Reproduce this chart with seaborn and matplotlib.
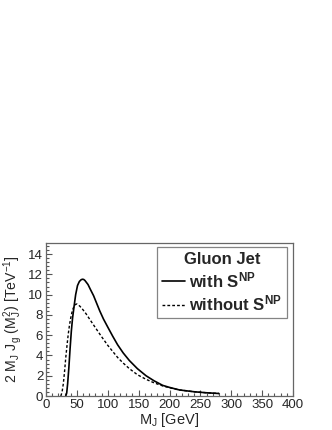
import numpy as np
import pandas as pd
import seaborn as sns
import matplotlib.pyplot as plt
from matplotlib.ticker import MultipleLocator

# with S^NP
mj_with = [32, 33.5, 35, 37, 39, 41, 43, 46, 48, 51, 54, 57, 59, 61, 63, 68, 72, 77, 81,
           87, 93, 100, 108, 116, 125, 135, 148, 162, 175, 189, 200, 216, 240, 260, 280]
j_with = [0.0, 0.3, 1.2, 2.8, 4.7, 6.4, 7.7, 9.1, 10.0, 10.9, 11.3, 11.48, 11.52, 11.5,
          11.4, 11.0, 10.5, 9.9, 9.3, 8.4, 7.6, 6.8, 5.9, 5.05, 4.25, 3.5, 2.7, 2.0, 1.5,
          1.05, 0.85, 0.6, 0.42, 0.32, 0.25]
# without S^NP
mj_without = [24, 26, 28, 30, 32, 34, 36, 38, 40, 42, 44, 46, 48, 50, 52, 55, 60, 65, 71,
              81, 90, 100, 108, 116, 125, 135, 148, 162, 175, 189, 200, 216, 240, 260, 280]
j_without = [0.0, 0.4, 1.2, 2.4, 3.8, 5.0, 6.1, 7.0, 7.7, 8.25, 8.65, 8.9, 9.05, 9.08, 9.0,
             8.85, 8.5, 8.1, 7.55, 6.65, 5.85, 5.0, 4.4, 3.8, 3.25, 2.7, 2.1, 1.65, 1.3,
             1.0, 0.82, 0.6, 0.42, 0.32, 0.25]

df = pd.concat([
    pd.DataFrame({"MJ": mj_with, "J": j_with, "curve": "with"}),
    pd.DataFrame({"MJ": mj_without, "J": j_without, "curve": "without"}),
])

sns.set_style("ticks")
plt.rcParams['font.family'] = ['Liberation Sans', 'DejaVu Sans']
plt.rcParams['mathtext.default'] = 'regular'

fig = plt.figure(figsize=(3.32, 4.30), dpi=100)
ax = fig.add_axes([0.1386, 0.079, 0.744, 0.356])

sns.lineplot(data=df[df.curve == "with"], x="MJ", y="J", color="black", lw=1.2,
             ax=ax, label=r"with S$^{NP}$")
sns.lineplot(data=df[df.curve == "without"], x="MJ", y="J", color="black", lw=1.0,
             linestyle=(0, (2, 1.5)), ax=ax, label=r"without S$^{NP}$")

ax.set_xlim(0, 400)
ax.set_ylim(0, 15.1)
ax.xaxis.set_major_locator(MultipleLocator(50))
ax.xaxis.set_minor_locator(MultipleLocator(10))
ax.yaxis.set_major_locator(MultipleLocator(2))
ax.yaxis.set_minor_locator(MultipleLocator(0.4))
ax.tick_params(which='both', direction='in', color='#555555', labelsize=9.5, pad=2)
ax.tick_params(which='major', length=4.5, width=0.8)
ax.tick_params(which='minor', length=2.2, width=0.8)
for s in ax.spines.values():
    s.set_visible(True)
    s.set_color('#666666')
    s.set_linewidth(0.9)

ax.set_xlabel(r"M$_J$ [GeV]", fontsize=10.5, labelpad=0)
ax.set_ylabel(r"2 M$_J$ J$_g$ (M$_J^2$) [TeV$^{-1}$]", fontsize=10.2, labelpad=3)

leg = ax.legend(loc='upper right', bbox_to_anchor=(0.976, 0.974), borderaxespad=0,
                title="Gluon Jet", fancybox=False, frameon=True, handlelength=1.4,
                handletextpad=0.25, borderpad=0.3, labelspacing=0.2,
                prop={'weight': 'bold', 'size': 12},
                title_fontproperties={'weight': 'bold', 'size': 12})
leg.get_frame().set_edgecolor('#666666')
leg.get_frame().set_linewidth(0.9)

fig.savefig("out.png", dpi=100)
